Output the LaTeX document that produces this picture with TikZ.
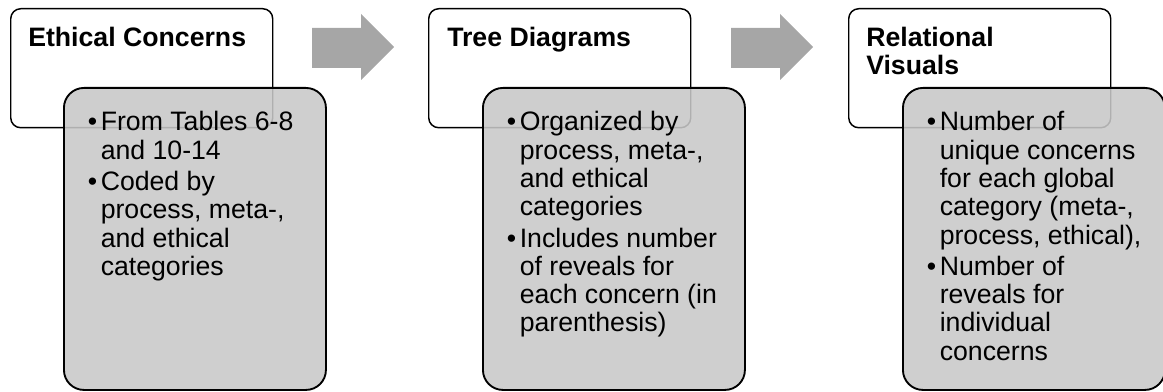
\documentclass[tikz,border=0pt]{standalone}
\usepackage{fontspec}
\setmainfont{Liberation Sans}
\definecolor{panel}{RGB}{200,200,200}
\definecolor{arrowgray}{RGB}{166,166,166}
\newcommand\bul{\makebox[9.75pt][l]{\textbullet}}
\newcommand\ind{\hspace*{9.75pt}}
\tikzset{
  headbox/.style={draw=black, line width=1.1pt, rounded corners=7.5pt, fill=white,
    anchor=north west, inner sep=0pt, minimum width=196.5pt, minimum height=89.25pt},
  detailbox/.style={draw=black, line width=1.4pt, rounded corners=15pt, fill=panel,
    fill opacity=0.88, anchor=north west, inner sep=0pt,
    minimum width=196.5pt, minimum height=226.5pt},
  flowarrow/.style={fill=arrowgray, draw=none},
  headtext/.style={anchor=base west, inner sep=0pt,
    font=\fontsize{20}{21}\selectfont\bfseries},
  listtext/.style={anchor=base west, inner sep=0pt,
    font=\fontsize{20}{21.2}\selectfont},
}
\begin{document}
\begin{tikzpicture}[x=0.75pt, y=-0.75pt]
\useasboundingbox (0,0) rectangle (1163,392);

% stage boxes
\node[headbox] (h1) at (10,8) {};
\node[headbox] (h2) at (428,8) {};
\node[headbox] (h3) at (848,8) {};

\node[detailbox] (d1) at (63,87) {};
\node[detailbox] (d2) at (482,87) {};
\node[detailbox] (d3) at (902,87) {};

% block arrows between stages
\path[flowarrow] (312,28) -- (361,28) -- (361,14) -- (394,47) -- (361,80) -- (361,68) -- (312,68) -- cycle;
\path[flowarrow] (731,28) -- (780,28) -- (780,14) -- (813,47) -- (780,80) -- (780,68) -- (731,68) -- cycle;

% titles
\node[headtext] (t1) at (28,47) {Ethical Concerns};
\node[headtext] (t2) at (447,47) {Tree Diagrams};
\node[headtext] (t3) at (866,47) {\parbox[t]{150pt}{Relational\\Visuals}};

% bullet lists
\node[listtext] (l1) at (87.5,131) {\parbox[t]{180pt}{%
  \bul From Tables 6-8\\
  \ind and 10-14\\[2.25pt]
  \bul Coded by\\
  \ind process, meta-,\\
  \ind and ethical\\
  \ind categories}};
\node[listtext] (l2) at (506.5,131) {\parbox[t]{180pt}{%
  \bul Organized by\\
  \ind process, meta-,\\
  \ind and ethical\\
  \ind categories\\[2.25pt]
  \bul Includes number\\
  \ind of reveals for\\
  \ind each concern (in\\
  \ind parenthesis)}};
\node[listtext] (l3) at (926.5,131) {\parbox[t]{180pt}{%
  \bul Number of\\
  \ind unique concerns\\
  \ind for each global\\
  \ind category (meta-,\\
  \ind process, ethical),\\[2.25pt]
  \bul Number of\\
  \ind reveals for\\
  \ind individual\\
  \ind concerns}};
\end{tikzpicture}
\end{document}
